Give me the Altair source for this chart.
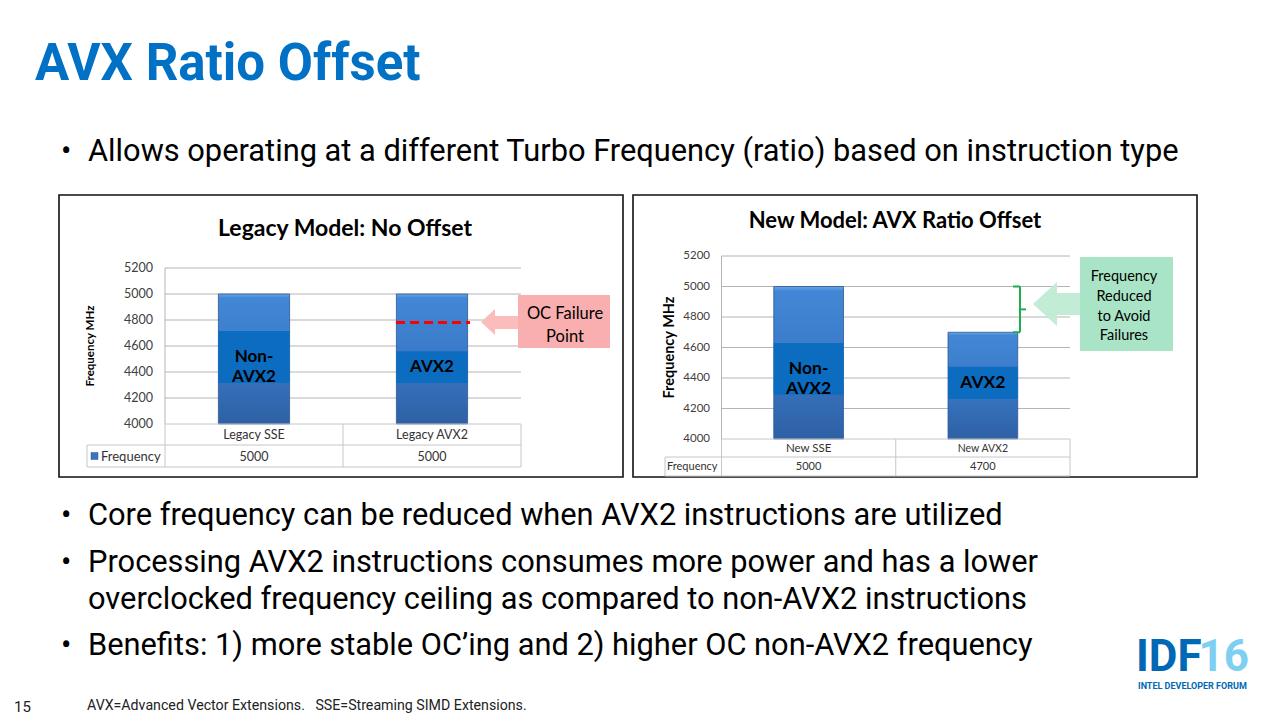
import altair as alt
import pandas as pd

# ---------------- values ----------------
y_ticks = [4000, 4200, 4400, 4600, 4800, 5000, 5200]

legacy_cats = ["Legacy SSE", "Legacy AVX2"]
legacy_freq = [5000, 5000]
legacy_band_lo = [4315, 4315]
legacy_band_hi = [4715, 4560]
legacy_labels = ["Non-\nAVX2", "AVX2"]
oc_failure_point = 4780

new_cats = ["New SSE", "New AVX2"]
new_freq = [5000, 4700]
new_band_lo = [4290, 4262]
new_band_hi = [4630, 4474]
new_labels = ["Non-\nAVX2", "AVX2"]

slide_title = "AVX Ratio Offset"
bullet_top = "Allows operating at a different Turbo Frequency (ratio) based on instruction type"
bullets_bottom = [
    "Core frequency can be reduced when AVX2 instructions are utilized",
    "Processing AVX2 instructions consumes more power and has a lower",
    "overclocked frequency ceiling as compared to non-AVX2 instructions",
    "Benefits: 1) more stable OC\u2019ing and 2) higher OC non-AVX2 frequency",
]
footnote = "AVX=Advanced Vector Extensions.\u00a0\u00a0 SSE=Streaming SIMD Extensions."
page_number = "15"

SLIDE_FONT = "Roboto"
CHART_FONT = "Lato"
GRID = "#b4b4b4"
TABLE = "#c6c6c6"

bar_fill = alt.Gradient(
    gradient="linear",
    stops=[
        alt.GradientStop(color="#6aa6e6", offset=0),
        alt.GradientStop(color="#4287d5", offset=0.03),
        alt.GradientStop(color="#3a7bc9", offset=0.45),
        alt.GradientStop(color="#2e60a4", offset=1),
    ],
    x1=0, x2=0, y1=0, y2=1,
)

layers = []


def one_text(text, x, y, size, font=SLIDE_FONT, weight="normal", color="#000000",
             align="left", baseline="alphabetic", angle=0, line_height=None):
    props = dict(font=font, fontSize=size, fontWeight=weight, color=color,
                 align=align, baseline=baseline, angle=angle, lineBreak="\n")
    if line_height is not None:
        props["lineHeight"] = line_height
    return alt.Chart(pd.DataFrame({"t": [text]})).mark_text(**props).encode(
        text="t:N", x=alt.value(x), y=alt.value(y)
    )


def frame(x0, x1, y0, y1, fill="white", stroke=None, sw=0):
    props = dict(fill=fill)
    if stroke:
        props.update(stroke=stroke, strokeWidth=sw)
    return alt.Chart(pd.DataFrame({"k": [0]})).mark_rect(**props).encode(
        x=alt.value(x0), x2=alt.value(x1), y=alt.value(y0), y2=alt.value(y1)
    )


def hline(x0, x1, y, color=TABLE, sw=1):
    return alt.Chart(pd.DataFrame({"k": [0]})).mark_rule(color=color, strokeWidth=sw).encode(
        x=alt.value(x0), x2=alt.value(x1), y=alt.value(y)
    )


def vline(x, y0, y1, color=TABLE, sw=1):
    return alt.Chart(pd.DataFrame({"k": [0]})).mark_rule(color=color, strokeWidth=sw).encode(
        x=alt.value(x), y=alt.value(y0), y2=alt.value(y1)
    )


def panel(cats, freq, lo, hi, labels, px, py, title, title_xy, title_size,
          tick_x, tick_size, ytitle_x, ytitle_size, label_size, table,
          cat_sizes, val_size, legend_icon):
    """One framed bar chart with its data table."""
    xs = alt.Scale(domain=cats, range=list(px), paddingInner=0.6, paddingOuter=0.3)
    ys = alt.Scale(domain=[4000, 5200], range=list(py), zero=False, nice=False)
    out = []
    df = pd.DataFrame({"cat": cats, "freq": freq, "lo": lo, "hi": hi, "label": labels})
    ticks = pd.DataFrame({"tick": y_ticks})

    # gridlines
    out.append(alt.Chart(ticks[ticks.tick > 4000]).mark_rule(color=GRID, strokeWidth=1).encode(
        y=alt.Y("tick:Q", scale=ys, axis=None), x=alt.value(px[0]), x2=alt.value(px[1])))
    # value axis line
    out.append(alt.Chart(pd.DataFrame({"k": [0]})).mark_rule(color=GRID, strokeWidth=1).encode(
        y=alt.datum(5200, scale=ys), y2=alt.datum(4000), x=alt.value(px[0])))
    # tick labels
    out.append(alt.Chart(ticks).mark_text(font=CHART_FONT, fontSize=tick_size, color="#404040",
                                          align="right", baseline="middle").encode(
        y=alt.Y("tick:Q", scale=ys, axis=None), x=alt.value(tick_x),
        text=alt.Text("tick:Q", format="d")))
    # bars
    out.append(alt.Chart(df).mark_bar(color=bar_fill, stroke="#2a5894", strokeWidth=0.8).encode(
        x=alt.X("cat:N", scale=xs, axis=None, sort=cats),
        y=alt.Y("freq:Q", scale=ys, axis=None), y2=alt.datum(4000)))
    # instruction-type band inside each bar
    out.append(alt.Chart(df).mark_bar(color="#0b6cc0").encode(
        x=alt.X("cat:N", scale=xs, axis=None, sort=cats),
        y=alt.Y("hi:Q", scale=ys, axis=None), y2="lo:Q"))
    out.append(alt.Chart(df).transform_calculate(mid="(datum.lo + datum.hi) / 2").mark_text(
        font=CHART_FONT, fontSize=label_size, fontWeight="bold", color="#000000",
        baseline="middle", lineBreak="\n", lineHeight=label_size * 1.15).encode(
        x=alt.X("cat:N", scale=xs, axis=None, sort=cats),
        y=alt.Y("mid:Q", scale=ys, axis=None), text="label:N"))

    # data table under the plot
    (row1, row2, row3, leg_x) = table
    mid_x = (px[0] + px[1]) / 2
    out.append(hline(px[0], px[1], row1))
    out.append(hline(leg_x, px[1], row2))
    out.append(hline(leg_x, px[1], row3))
    out.append(vline(px[0], row1, row3))
    out.append(vline(mid_x, row1, row3))
    out.append(vline(px[1], row1, row3))
    out.append(vline(leg_x, row2, row3))
    for i, c in enumerate(cats):
        sub = df.iloc[[i]]
        out.append(alt.Chart(sub).mark_text(font=CHART_FONT, fontSize=cat_sizes[i], color="#333333",
                                             baseline="middle").encode(
            x=alt.X("cat:N", scale=xs, axis=None, sort=cats),
            y=alt.value((row1 + row2) / 2 + 0.5), text="cat:N"))
    out.append(alt.Chart(df).mark_text(font=CHART_FONT, fontSize=val_size, color="#333333",
                                       baseline="middle").encode(
        x=alt.X("cat:N", scale=xs, axis=None, sort=cats),
        y=alt.value((row2 + row3) / 2 + 0.5), text=alt.Text("freq:Q", format="d")))
    if legend_icon:
        out.append(frame(leg_x + 4, leg_x + 11, (row2 + row3) / 2 - 3.5, (row2 + row3) / 2 + 3.5,
                         fill="#3a74bf", stroke="#2a5894", sw=0.5))
        out.append(one_text("Frequency", leg_x + 14, (row2 + row3) / 2 + 0.5, val_size + 0.5,
                            font=CHART_FONT, color="#333333", baseline="middle"))
    else:
        out.append(one_text("Frequency", leg_x + 2, (row2 + row3) / 2 + 0.5, val_size,
                            font=CHART_FONT, color="#333333", baseline="middle"))

    # titles
    out.append(one_text(title, title_xy[0], title_xy[1], title_size, font=CHART_FONT,
                        weight="bold", align="center"))
    out.append(one_text("Frequency MHz", ytitle_x, (py[0] + py[1]) / 2, ytitle_size,
                        font=CHART_FONT, weight="bold", align="center", baseline="middle",
                        angle=270))
    return out, xs, ys


# ---------------- slide background and panel frames ----------------
layers.append(frame(0, 1280, 0, 720))
layers.append(frame(59, 623, 195, 477, stroke="#111111", sw=1.6))
layers.append(frame(633, 1197, 195, 477, stroke="#111111", sw=1.6))

# ---------------- left chart ----------------
left, lxs, lys = panel(
    legacy_cats, legacy_freq, legacy_band_lo, legacy_band_hi, legacy_labels,
    px=(165, 521), py=(424, 268), title="Legacy Model: No Offset", title_xy=(345, 236),
    title_size=23, tick_x=153, tick_size=12.5, ytitle_x=91, ytitle_size=11.5,
    label_size=17, table=(424, 445, 467, 87), cat_sizes=[12.5, 12.5], val_size=12.5,
    legend_icon=True)
layers += left

# OC failure marker: dashed line across the AVX2 bar plus callout
layers.append(alt.Chart(pd.DataFrame({"v": [oc_failure_point]})).mark_rule(
    color="#ff0000", strokeWidth=3, strokeDash=[9, 5]).encode(
    y=alt.Y("v:Q", scale=lys, axis=None), x=alt.value(396), x2=alt.value(470)))
layers.append(alt.Chart(pd.DataFrame({"k": [0]})).mark_point(
    shape="M0,0 L14,-13 L14,-6 L38,-6 L38,7 L14,7 L14,13 Z",
    size=4, filled=True, color="#fbbcbc", opacity=1, strokeWidth=0).encode(
    x=alt.value(481), y=alt.value(322)))
layers.append(frame(518, 610, 295, 348, fill="#f9afaf"))
layers.append(one_text("OC Failure\nPoint", 565, 319, 16.5, font=CHART_FONT, align="center",
                       line_height=22.5))

# ---------------- right chart ----------------
right, rxs, rys = panel(
    new_cats, new_freq, new_band_lo, new_band_hi, new_labels,
    px=(721.5, 1070), py=(439, 256), title="New Model: AVX Ratio Offset", title_xy=(895, 228),
    title_size=22, tick_x=710, tick_size=11.5, ytitle_x=670, ytitle_size=14.5,
    label_size=17.5, table=(439, 457, 476, 665), cat_sizes=[11.5, 10.5], val_size=11,
    legend_icon=False)
layers += right

# bracket showing the reduction from the SSE frequency to the AVX2 frequency
reduction = pd.DataFrame({"top": [new_freq[0]], "bottom": [new_freq[1]]})
BR = "#1fad4f"
layers.append(alt.Chart(reduction).mark_rule(color=BR, strokeWidth=2).encode(
    y=alt.Y("top:Q", scale=rys, axis=None), y2="bottom:Q", x=alt.value(1020)))
layers.append(alt.Chart(reduction).mark_rule(color=BR, strokeWidth=2).encode(
    y=alt.Y("top:Q", scale=rys, axis=None), x=alt.value(1013), x2=alt.value(1020)))
layers.append(alt.Chart(reduction).mark_rule(color=BR, strokeWidth=2).encode(
    y=alt.Y("bottom:Q", scale=rys, axis=None), x=alt.value(1013), x2=alt.value(1020)))
layers.append(alt.Chart(reduction).transform_calculate(m="(datum.top + datum.bottom) / 2").mark_rule(
    color=BR, strokeWidth=2).encode(
    y=alt.Y("m:Q", scale=rys, axis=None), x=alt.value(1020), x2=alt.value(1026)))

layers.append(alt.Chart(pd.DataFrame({"k": [0]})).mark_point(
    shape="M0,0 L24,-22 L24,-11 L47,-11 L47,11 L24,11 L24,22 Z",
    size=4, filled=True, color="#c3ecd7", opacity=1, strokeWidth=0).encode(
    x=alt.value(1033), y=alt.value(304)))
layers.append(frame(1080, 1173, 257, 351, fill="#a9e4c6"))
layers.append(one_text("Frequency\nReduced\nto Avoid\nFailures", 1124, 281, 14.5,
                       font=CHART_FONT, align="center", line_height=19.8))

# ---------------- slide text ----------------
BODY = 30.8
layers.append(one_text(slide_title, 35, 80, 51, weight="bold", color="#0071c5"))
layers.append(one_text("\u2022", 61, 161, BODY))
layers.append(one_text(bullet_top, 88, 161, BODY))
bottom_baselines = [525, 572, 609, 655]
for i, line in enumerate(bullets_bottom):
    if i != 2:
        layers.append(one_text("\u2022", 61, bottom_baselines[i], BODY))
    layers.append(one_text(line, 88, bottom_baselines[i], BODY))

layers.append(one_text(page_number, 14, 712, 15, color="#222222"))
layers.append(one_text(footnote, 87, 710, 14.2, color="#222222"))

# IDF16 logo
LOGO_FONT = "Roboto"
layers.append(one_text("IDF", 1136, 671, 44, font=LOGO_FONT, weight="bold", color="#0068b5"))
layers.append(one_text("16", 1249, 671, 44, font=LOGO_FONT, weight="bold", color="#7fcff3",
                       align="right"))
layers.append(one_text("INTEL DEVELOPER FORUM", 1138, 689, 9, font=LOGO_FONT, weight="bold",
                       color="#0068b5"))

chart = alt.layer(*layers).resolve_scale(x="independent", y="independent").properties(
    width=1280, height=720, padding=0, background="white",
    autosize=alt.AutoSizeParams(type="none"),
).configure_view(stroke=None)

chart.save("out.html", embed_options={"renderer": "svg", "actions": False})
